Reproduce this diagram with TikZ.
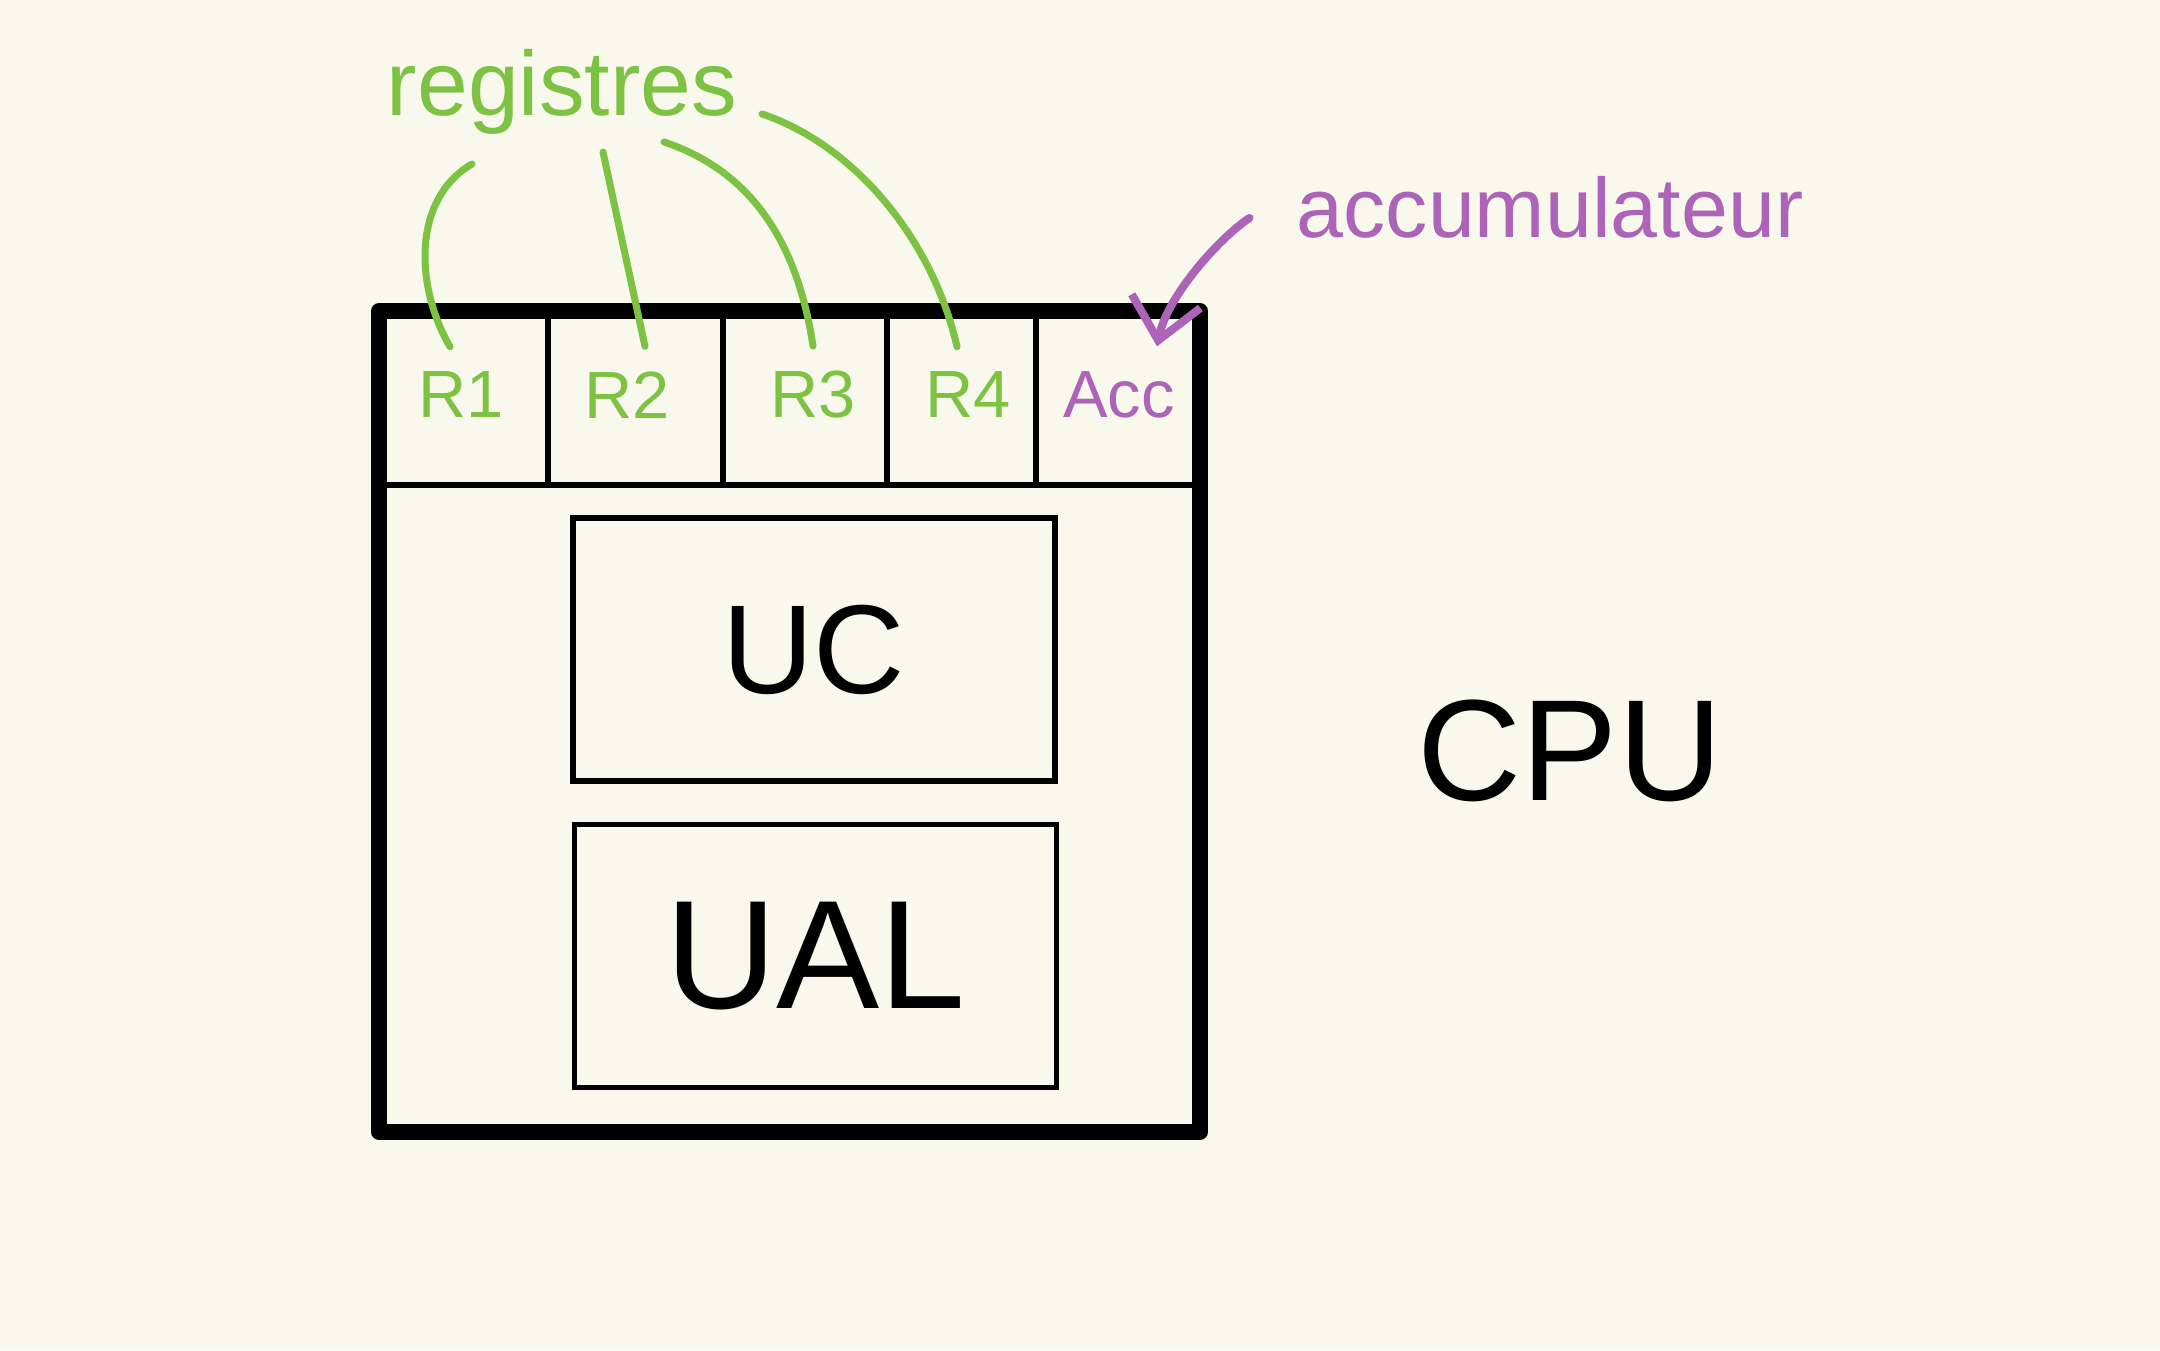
\documentclass[tikz,border=0pt]{standalone}
\usepackage{fontspec}
\setmainfont{Liberation Sans}
\usetikzlibrary{arrows.meta, positioning}
\definecolor{paper}{RGB}{249,248,236}
\definecolor{reggreen}{RGB}{125,194,66}
\definecolor{accpurple}{RGB}{172,99,184}

\begin{document}
\begin{tikzpicture}[
    reglabel/.style={text=reggreen, font=\fontsize{19}{22}\selectfont, inner sep=7pt},
    regline/.style={reggreen, line width=2pt, line cap=round},
    unitbox/.style={draw, line width=1.5pt, minimum width=4.82cm, minimum height=2.63cm},
  ]
  % Background
  \fill[paper] (0,0) rectangle (21.6,13.5);
  \useasboundingbox (0,0) rectangle (21.6,13.5);

  % CPU frame and register row
  \draw[line width=4.5pt, line join=round] (3.79,2.18) rectangle (12.00,10.39);
  \draw[line width=1.5pt] (3.79,8.65) -- (12.00,8.65);
  \foreach \x in {5.48,7.23,8.87,10.36}
    \draw[line width=1.5pt] (\x,10.39) -- (\x,8.65);

  % Registers
  \node[reglabel] (r1) at (4.61,9.55) {R1};
  \node[reglabel] (r2) at (6.27,9.55) {R2};
  \node[reglabel] (r3) at (8.13,9.55) {R3};
  \node[reglabel] (r4) at (9.68,9.55) {R4};
  \node[reglabel, text=accpurple] (acc) at (11.19,9.55) {Acc};

  % Units
  \node[unitbox, font=\fontsize{36}{40}\selectfont] (uc) at (8.14,7.005) {UC};
  \node[unitbox, font=\fontsize{44}{48}\selectfont] (ual) at (8.155,3.94) {UAL};

  % Name of the whole
  \node[font=\fontsize{41}{46}\selectfont] (cpu) at (15.70,5.99) {CPU};

  % Annotations
  \node[text=reggreen, font=\fontsize{26}{30}\selectfont] (reg) at (5.62,12.58) {registres};
  \node[text=accpurple, font=\fontsize{24}{28}\selectfont] (accnote) at (15.50,11.43) {accumulateur};

  % Lines from "registres" to each register
  \draw[regline] ([shift={(-0.90,-0.72)}]reg.center) .. controls +(-0.6,-0.35) and +(-0.35,0.6) .. ([xshift=-0.11cm]r1.north);
  \draw[regline] ([shift={(0.41,-0.60)}]reg.center) -- ([xshift=0.18cm]r2.north);
  \draw[regline] ([shift={(1.02,-0.50)}]reg.center) .. controls +(0.9,-0.3) and +(-0.15,1.0) .. (r3.north);
  \draw[regline] ([shift={(2.00,-0.22)}]reg.center) .. controls +(0.9,-0.3) and +(-0.25,1.1) .. ([xshift=-0.11cm]r4.north);

  % Arrow to the accumulator
  \draw[accpurple, line width=2.3pt, line cap=round, -{Straight Barb[length=4mm, width=7mm]}]
    ([shift={(-0.35,-0.11)}]accnote.west) .. controls +(-0.3,-0.2) and +(0.1,0.5) .. ([xshift=0.38cm]acc.north);
\end{tikzpicture}
\end{document}
